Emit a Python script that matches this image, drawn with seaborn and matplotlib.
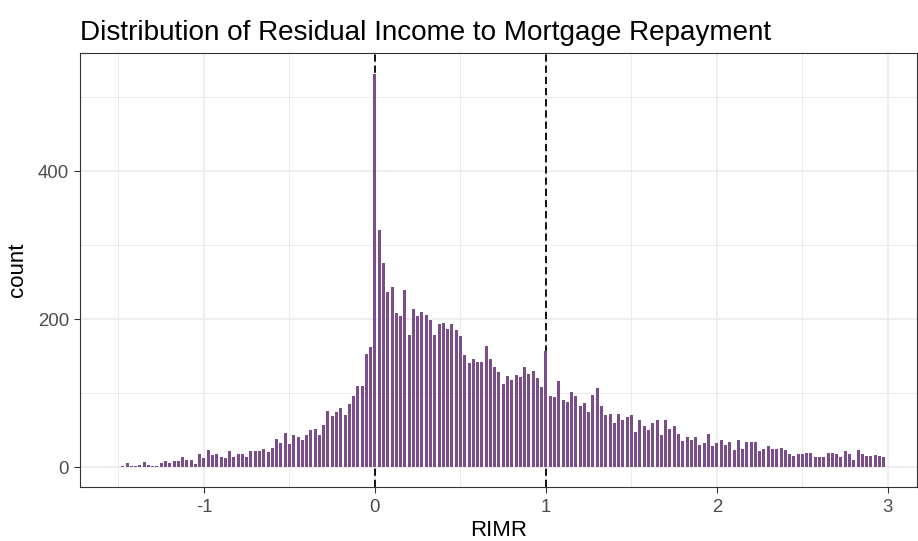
import numpy as np
import pandas as pd
import matplotlib
matplotlib.use("Agg")
import matplotlib.pyplot as plt
from matplotlib.ticker import FixedLocator
import seaborn as sns

# Histogram of RIMR, bins of width 0.025 centred on multiples of 0.025
bin_width = 0.025
first_center = -1.475
counts = [
    2, 6, 1, 2, 3, 7, 3, 1, 1, 6, 8, 5, 8, 8, 14, 9, 10, 4, 17, 12,
    23, 16, 17, 14, 12, 21, 14, 17, 18, 13, 21, 21, 21, 25, 20,
    26, 38, 32, 46, 31, 43, 41, 37, 43, 50, 52, 43, 57, 76, 69, 74, 80, 70,
    85, 96, 109, 109, 153, 162, 531, 320,
    276, 236, 243, 208, 204, 239, 178, 214, 204, 209, 206, 199, 179, 193,
    194, 186, 193, 185, 177, 151, 140, 146, 142, 142, 164, 146, 135, 129,
    112, 123, 118, 124, 121, 135, 126, 130, 120,
    108, 157, 96, 95, 116, 91, 88, 101, 96, 83, 86, 74, 98, 107, 82, 70,
    72, 59, 72, 63, 68, 70, 47, 64, 56, 50, 59, 63, 43, 64, 51, 55, 45,
    35, 41, 36, 40, 30, 32, 45, 29, 32,
    37, 30, 34, 23, 36, 24, 34, 34, 34, 22, 24, 29, 25, 25, 26, 23, 18,
    15, 18, 17, 19, 19, 14, 14, 14, 19, 19, 17, 13, 22, 18, 9, 23, 18,
    15, 15, 16, 15, 14,
]
reference_lines = [0, 1]
x_major = [-1, 0, 1, 2, 3]
x_minor = [-1.5, -0.5, 0.5, 1.5, 2.5]
y_major = [0, 200, 400]
y_minor = [100, 300, 500]

n = len(counts)
centers = first_center + bin_width * np.arange(n)
lo = first_center - bin_width / 2
hi = lo + bin_width * n
df = pd.DataFrame({"RIMR": centers, "n": counts})

sns.set_theme(style="white")
plt.rcParams["font.family"] = ["Liberation Sans", "DejaVu Sans"]

fig = plt.figure(figsize=(9.18, 5.41), dpi=100)
ax = fig.add_axes([80 / 918, 1 - 487 / 541, 837 / 918, 434 / 541])
ax.set_facecolor("white")

for xv in reference_lines:
    ax.axvline(xv, color="black", lw=1.3, linestyle=(0, (4, 2.2)), zorder=1)

# narrow bars with white gaps between neighbouring bins
sns.histplot(data=df, x="RIMR", weights="n", binwidth=bin_width,
             binrange=(lo, hi), stat="count", shrink=0.7,
             color="#7C4D8B", edgecolor="none", linewidth=0, alpha=1,
             ax=ax, zorder=2)

ax.set_xlim(-1.725, 3.17)
ax.set_ylim(-27, 559.5)

ax.xaxis.set_major_locator(FixedLocator(x_major))
ax.xaxis.set_minor_locator(FixedLocator(x_minor))
ax.yaxis.set_major_locator(FixedLocator(y_major))
ax.yaxis.set_minor_locator(FixedLocator(y_minor))
ax.set_xticklabels([str(v) for v in x_major])
ax.set_yticklabels([str(v) for v in y_major])

ax.grid(which="major", color="#EBEBEB", lw=1.2, zorder=0)
ax.grid(which="minor", color="#EBEBEB", lw=0.7, zorder=0)
ax.set_axisbelow(True)

ax.tick_params(which="major", direction="out", length=4.3, width=0.8,
               color="#333333", labelcolor="#4D4D4D", labelsize=13.4,
               bottom=True, left=True)
ax.tick_params(axis="x", which="major", pad=4.5)
ax.tick_params(axis="y", which="major", pad=3.5)
ax.tick_params(which="minor", length=0, bottom=False, left=False)

for sp in ax.spines.values():
    sp.set_color("#333333")
    sp.set_linewidth(0.8)

ax.set_xlabel("RIMR", fontsize=16, color="black", labelpad=2.5)
ax.set_ylabel("count", fontsize=16, color="black", labelpad=7)
ax.set_title("Distribution of Residual Income to Mortgage Repayment",
             fontsize=20.1, color="black", loc="left", pad=9)

fig.savefig("out.png", dpi=100)
